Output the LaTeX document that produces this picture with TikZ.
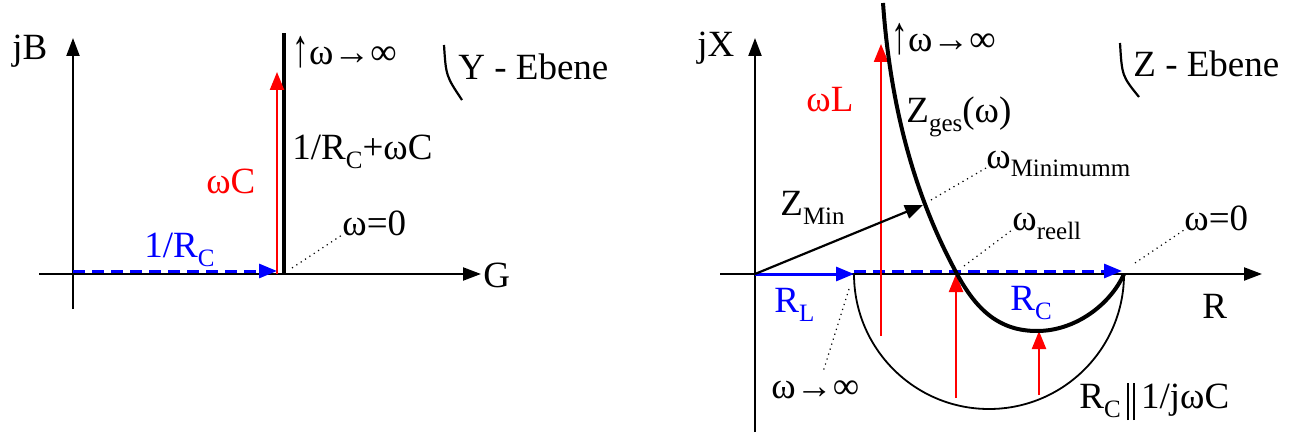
\documentclass[tikz,border=0pt]{standalone}
\usepackage{fontspec}
\setmainfont{Liberation Serif}
\usetikzlibrary{arrows.meta}
\definecolor{rot}{HTML}{FF0000}
\definecolor{blau}{HTML}{0000FF}
\newcommand{\sub}[1]{\raisebox{-4.5pt}{\fontsize{12.5}{13}\selectfont #1}}
\newcommand{\parsym}{\kern3pt\rule[-6pt]{1.2pt}{18.5pt}\kern1.8pt\rule[-6pt]{1.2pt}{18.5pt}\kern3pt}
\newcommand{\hoch}{\raisebox{-1pt}{\scalebox{0.9}[1.45]{↑}}}

\begin{document}
\begin{tikzpicture}[x=0.5pt,y=-0.5pt,
    axis/.style={line width=1.1pt,-{Triangle[length=9pt,width=6.5pt]}},
    vec/.style={line width=1.1pt,-{Triangle[length=9pt,width=7pt]}},
    lbl/.style={anchor=base west,inner sep=0pt,font=\fontsize{18.5}{22}\selectfont},
    leader/.style={dotted,line width=0.6pt},
    kurve/.style={line width=2pt}]
  \useasboundingbox (0,0) rectangle (1289,433);
  % Y-Ebene
  \coordinate (yB1) at (73,309);
  \coordinate (yB2) at (73,38);
  \coordinate (yG1) at (39,274);
  \coordinate (yG2) at (481,274);
  \coordinate (yP0) at (284,274);
  \coordinate (yPinf) at (284,33);
  \coordinate (yC0) at (277,274);
  \coordinate (yC1) at (277,72);
  \coordinate (yR0) at (73,271);
  \coordinate (yR1) at (277,271);
  \coordinate (yL0) at (292,268);
  \draw[axis] (yB1) -- (yB2);
  \draw[axis] (yG1) -- (yG2);
  \draw[kurve] (yP0) -- (yPinf);
  \draw[vec,rot] (yC0) -- (yC1);
  \draw[vec,blau,line width=1.5pt,dash pattern=on 6pt off 3.5pt] (yR0) -- (yR1);
  \node[lbl] (jB) at (12,60) {jB};
  \node[lbl] (G) at (483,287) {G};
  \node[lbl] (yinf) at (292,65) {\hoch ω→∞};
  \node[lbl] (yeb) at (458,80) {Y - Ebene};
  \draw[line width=1.1pt] (444,45) .. controls (446,76) .. (462,100);
  \node[lbl] (ysum) at (292,159) {1/R\sub{C}+ωC};
  \node[lbl,rot] (wC) at (206,193) {ωC};
  \node[lbl] (yw0) at (342,235) {ω=0};
  \node[lbl,blau] (yRC) at (144,257) {1/R\sub{C}};
  \draw[leader] (yL0) -- (yw0.base west);
  % Z-Ebene
  \coordinate (zX1) at (755,432);
  \coordinate (zX2) at (755,38);
  \coordinate (zR1) at (720,274);
  \coordinate (zR2) at (1262,274);
  \coordinate (zO) at (755,274);
  \coordinate (zA) at (854,274);
  \coordinate (zB) at (1124,274);
  \coordinate (zMin) at (923,205);
  \draw[axis] (zX1) -- (zX2);
  \draw[axis] (zR1) -- (zR2);
  \draw[line width=0.9pt] (zA) arc[start angle=180,end angle=0,radius=135];
  \draw[vec,blau,line width=1.5pt] (zO) -- (zA);
  \draw[vec,blau,line width=1.5pt,dash pattern=on 6pt off 3.5pt]
    ([yshift=1.5pt]zA) -- ([yshift=1.5pt,xshift=-1pt]zB);
  \foreach \x/\a/\b in {881/336/44,956/398/274,1039/395/331}{
    \draw[vec,rot] (\x,\a) -- (\x,\b);}
  \draw[kurve] (883,3) .. controls (892,130) and (925,215) .. (957,274)
    .. controls (977,311) and (1000,331) .. (1037,331)
    .. controls (1075,331) and (1110,305) .. (zB);
  \draw[vec] (zO) -- (zMin);
  \node[lbl] (jX) at (697,57) {jX};
  \node[lbl] (zinf) at (891,52) {\hoch ω→∞};
  \node[lbl] (zeb) at (1133,77) {Z - Ebene};
  \draw[line width=1.1pt] (1120,43) .. controls (1122,76) .. (1139,97);
  \node[lbl,rot] (wL) at (806,112) {ωL};
  \node[lbl] (Zges) at (906,123) {Z\sub{ges}(ω)};
  \node[lbl] (wMin) at (986,168) {ω\sub{Minimumm}};
  \node[lbl] (ZMin) at (780,215) {Z\sub{Min}};
  \node[lbl] (wre) at (1012,230) {ω\sub{reell}};
  \node[lbl] (zw0) at (1184,230) {ω=0};
  \node[lbl,blau] (RL) at (774,312) {R\sub{L}};
  \node[lbl,blau] (RC) at (1010,310) {R\sub{C}};
  \node[lbl] (R) at (1202,318) {R};
  \node[lbl] (winf) at (771,398) {ω→∞};
  \node[lbl] (Rpar) at (1079,408) {R\sub{C}\parsym 1/jωC};
  \coordinate (zL1) at (931,200);
  \coordinate (zL2) at (964,266);
  \coordinate (zL3) at (1135,263);
  \coordinate (zL4) at (849,289);
  \coordinate (zL5) at (823,372);
  \draw[leader] (zL1) -- (wMin.base west);
  \draw[leader] (zL2) -- (wre.base west);
  \draw[leader] (zL3) -- (zw0.base west);
  \draw[leader] (zL4) -- (zL5);
\end{tikzpicture}
\end{document}
